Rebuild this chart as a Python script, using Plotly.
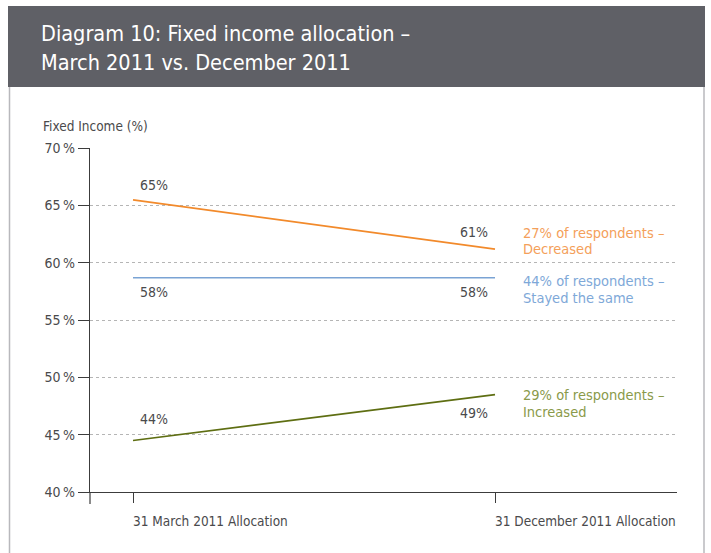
import plotly.graph_objects as go

W, H = 711, 553
FONT = "Liberation Sans Narrow, DejaVu Sans Condensed, Arial Narrow, sans-serif"

categories = ["31 March 2011 Allocation", "31 December 2011 Allocation"]
x_pos = [0, 1]

decreased = [65.5, 61.2]
stayed = [58.7, 58.7]
increased = [44.5, 48.5]

decreased_labels = ["65%", "61%"]
stayed_labels = ["58%", "58%"]
increased_labels = ["44%", "49%"]

series_line1 = ["27% of respondents –", "44% of respondents –", "29% of respondents –"]
series_line2 = ["Decreased", "Stayed the same", "Increased"]

y_ticks = [40, 45, 50, 55, 60, 65, 70]
y_tick_text = ["40\u2009%", "45\u2009%", "50\u2009%", "55\u2009%", "60\u2009%", "65\u2009%", "70\u2009%"]

line_colors = ["#f28a2b", "#7aa3d4", "#5e6e12"]
text_colors = ["#f4a05a", "#7ea8d8", "#8a9a4a"]
TXT = "#4a4a4c"

# plot area in pixels
px_l, px_r = 90, 677
py_t, py_b = 148.3, 492
tick0, tick1 = 133, 495
ppu = tick1 - tick0
x_range = [-(tick0 - px_l) / ppu, 1 + (px_r - tick1) / ppu]

fig = go.Figure()
for vals, col in zip([decreased, stayed, increased], line_colors):
    fig.add_trace(go.Scatter(x=x_pos, y=vals, mode="lines",
                             line=dict(color=col, width=1.6),
                             showlegend=False, hoverinfo="skip"))

annotations = []


def lab(x, y, t, anchor, shift):
    annotations.append(dict(x=x, y=y, xref="x", yref="y", text=t, showarrow=False,
                            xanchor=anchor, yanchor="middle", yshift=shift,
                            xshift=5 if anchor == "left" else -5,
                            font=dict(family=FONT, size=14, color=TXT)))


lab(x_pos[0], decreased[0], decreased_labels[0], "left", 15)
lab(x_pos[1], decreased[1], decreased_labels[1], "right", 17)
lab(x_pos[0], stayed[0], stayed_labels[0], "left", -14)
lab(x_pos[1], stayed[1], stayed_labels[1], "right", -14)
lab(x_pos[0], increased[0], increased_labels[0], "left", 21)
lab(x_pos[1], increased[1], increased_labels[1], "right", -18)

end_vals = [decreased[1], stayed[1], increased[1]]
shifts = [(16, 0), (-3.5, -20.5), (0, -17)]
for l1, l2, col, v, (s1, s2) in zip(series_line1, series_line2, text_colors, end_vals, shifts):
    for t, s in ((l1, s1), (l2, s2)):
        annotations.append(dict(x=x_pos[1], y=v, xref="x", yref="y", text=t,
                                showarrow=False, xanchor="left", yanchor="middle",
                                xshift=26, yshift=s, align="left",
                                font=dict(family=FONT, size=14.5, color=col)))

for xp, c in zip(x_pos, categories):
    annotations.append(dict(x=xp, y=1 - 521 / H, xref="x", yref="paper", text=c,
                            showarrow=False, xanchor="left", yanchor="middle",
                            xshift=-2,
                            font=dict(family=FONT, size=13.5, color=TXT)))

annotations.append(dict(x=39 / W, y=1 - 33 / H, xref="paper", yref="paper",
                        text="Diagram 10: Fixed income allocation –",
                        showarrow=False, xanchor="left", yanchor="middle", align="left",
                        font=dict(family=FONT, size=21.5, color="white")))
annotations.append(dict(x=39 / W, y=1 - 62 / H, xref="paper", yref="paper",
                        text="March 2011 vs. December 2011",
                        showarrow=False, xanchor="left", yanchor="middle", align="left",
                        font=dict(family=FONT, size=21.5, color="white")))
annotations.append(dict(x=41 / W, y=1 - 126 / H, xref="paper", yref="paper",
                        text="Fixed Income (%)", showarrow=False, xanchor="left",
                        yanchor="middle", font=dict(family=FONT, size=13.5, color=TXT)))

shapes = [
    dict(type="rect", xref="paper", yref="paper", x0=8 / W, x1=705 / W,
         y0=1 - 87 / H, y1=1 - 6 / H, fillcolor="#5f6066", line=dict(width=0), layer="below"),
    dict(type="line", xref="paper", yref="paper", x0=9.5 / W, x1=9.5 / W,
         y0=0, y1=1 - 87 / H, line=dict(color="#b8b8bc", width=1.5)),
    dict(type="line", xref="paper", yref="paper", x0=704 / W, x1=704 / W,
         y0=0, y1=1 - 87 / H, line=dict(color="#b8b8bc", width=1.5)),
    dict(type="line", xref="paper", yref="paper", x0=px_l / W, x1=px_l / W,
         y0=1 - 504 / H, y1=1 - py_b / H, line=dict(color="#3c3c3c", width=1.2)),
]

fig.update_layout(
    template="none",
    width=W, height=H,
    margin=dict(l=0, r=0, t=0, b=0, pad=0, autoexpand=False),
    paper_bgcolor="white", plot_bgcolor="white",
    annotations=annotations, shapes=shapes,
    xaxis=dict(domain=[px_l / W, px_r / W], range=x_range, tickvals=x_pos, automargin=False,
               ticktext=["", ""], ticks="outside", ticklen=10, tickcolor="#3c3c3c",
               showline=True, linecolor="#3c3c3c", linewidth=1.2,
               showgrid=False, zeroline=False, fixedrange=True),
    yaxis=dict(domain=[1 - py_b / H, 1 - py_t / H], range=[40, 70], tickvals=y_ticks,
               automargin=False,
               ticktext=y_tick_text, ticks="outside", ticklen=11, tickcolor="#3c3c3c",
               showline=True, linecolor="#3c3c3c", linewidth=1.2,
               showgrid=True, gridcolor="#b5b5b5", griddash="3px,3px", gridwidth=1,
               zeroline=False, tickfont=dict(family=FONT, size=14, color=TXT),
               fixedrange=True),
    font=dict(family=FONT),
)

fig.write_html("out.html", config={"displayModeBar": False},
               post_script=("document.documentElement.style.margin='0';"
                            "document.body.style.margin='0';"
                            "document.body.style.overflow='hidden';"
                            "var d=document.getElementById('{plot_id}');"
                            "d.style.position='fixed';d.style.left='0px';d.style.top='0px';"))
